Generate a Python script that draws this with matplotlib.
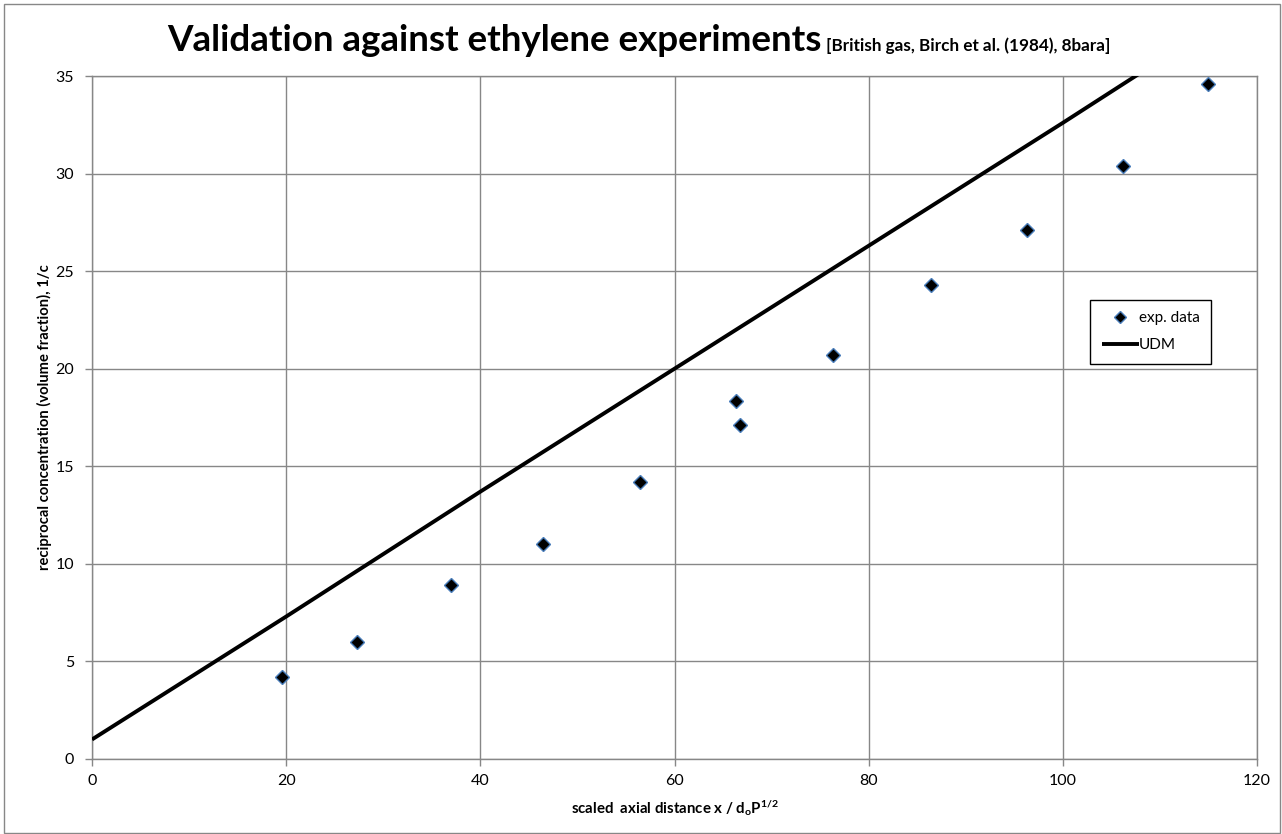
import matplotlib
matplotlib.use("Agg")
import matplotlib.pyplot as plt
from matplotlib.patches import Rectangle

plt.rcParams['font.family'] = ['Lato', 'DejaVu Sans']
plt.rcParams['mathtext.fontset'] = 'custom'
plt.rcParams['mathtext.rm'] = 'Lato:bold'
plt.rcParams['mathtext.it'] = 'Lato:bold'
plt.rcParams['mathtext.bf'] = 'Lato:bold'

# Data
exp_x = [19.6, 27.3, 37.0, 46.5, 56.4, 66.3, 66.7, 76.3, 86.4, 96.3, 106.2, 115.0]
exp_y = [4.2, 6.0, 8.9, 11.0, 14.2, 18.35, 17.1, 20.7, 24.3, 27.1, 30.4, 34.6]
udm_x = [0, 20, 40, 60, 80, 100, 110]
udm_y = [1.0, 7.3, 13.7, 20.0, 26.3, 32.6, 35.8]

xticks = [0, 20, 40, 60, 80, 100, 120]
yticks = [0, 5, 10, 15, 20, 25, 30, 35]

title_main = "Validation against ethylene experiments"
title_sub = " [British gas, Birch et al. (1984), 8bara]"
xlabel = r"scaled  axial distance x / d$_\mathrm{o}$P$^\mathrm{1/2}$"
ylabel = "reciprocal concentration (volume fraction), 1/c"

W, H = 1282, 834
fig = plt.figure(figsize=(W / 100, H / 100), dpi=100)
gray = '#878787'

# outer border
fig.patches.append(Rectangle((4 / W, 1 / H), 1276 / W, 829 / H, transform=fig.transFigure,
                             fill=False, edgecolor=gray, linewidth=1.0))

ax = fig.add_axes([92 / W, 1 - 759 / H, 1165 / W, 683 / H])
ax.set_xlim(0, 120)
ax.set_ylim(0, 35)
ax.set_xticks(xticks)
ax.set_yticks(yticks)
ax.grid(True, color=gray, linewidth=1.0)
ax.set_axisbelow(True)
for s in ax.spines.values():
    s.set_color(gray)
    s.set_linewidth(1.0)
ax.tick_params(axis='both', colors=gray, length=5, width=1, direction='out', labelsize=11.5,
               labelcolor='black')
ax.tick_params(axis='x', pad=6)
ax.tick_params(axis='y', pad=8)

ax.plot(udm_x, udm_y, color='black', linewidth=2.8, label='UDM', solid_capstyle='butt', zorder=3)
ax.plot(exp_x, exp_y, linestyle='none', marker='D', markersize=7.5, markerfacecolor='black',
        markeredgecolor='#4A7EBB', markeredgewidth=1.0, label='exp. data', zorder=4)

handles, labels = ax.get_legend_handles_labels()
leg = ax.legend(handles[::-1], labels[::-1], loc='upper left', bbox_to_anchor=(0.857, 0.672),
                frameon=True, fancybox=False, edgecolor='black', framealpha=1, fontsize=11,
                handlelength=2.4, handletextpad=0.0, borderpad=0.75, labelspacing=0.85,
                borderaxespad=0, markerscale=0.8)
leg.get_frame().set_linewidth(1.0)

ax.set_xlabel(xlabel, fontsize=10.8, fontweight='bold', labelpad=7)
ax.set_ylabel(ylabel, fontsize=10.6, fontweight='bold', labelpad=2)

# title in two parts
fig.canvas.draw()
r = fig.canvas.get_renderer()
t1 = fig.text(0, 1 - 51 / H, title_main, fontsize=26.5, fontweight='bold', va='baseline', ha='left')
t2 = fig.text(0, 1 - 51 / H, title_sub, fontsize=12.3, fontweight='bold', va='baseline', ha='left')
w1 = t1.get_window_extent(r).width
w2 = t2.get_window_extent(r).width
x0 = (639 - (w1 + w2) / 2)
t1.set_x(x0 / W)
t2.set_x((x0 + w1) / W)

fig.savefig('out.png', dpi=100)
